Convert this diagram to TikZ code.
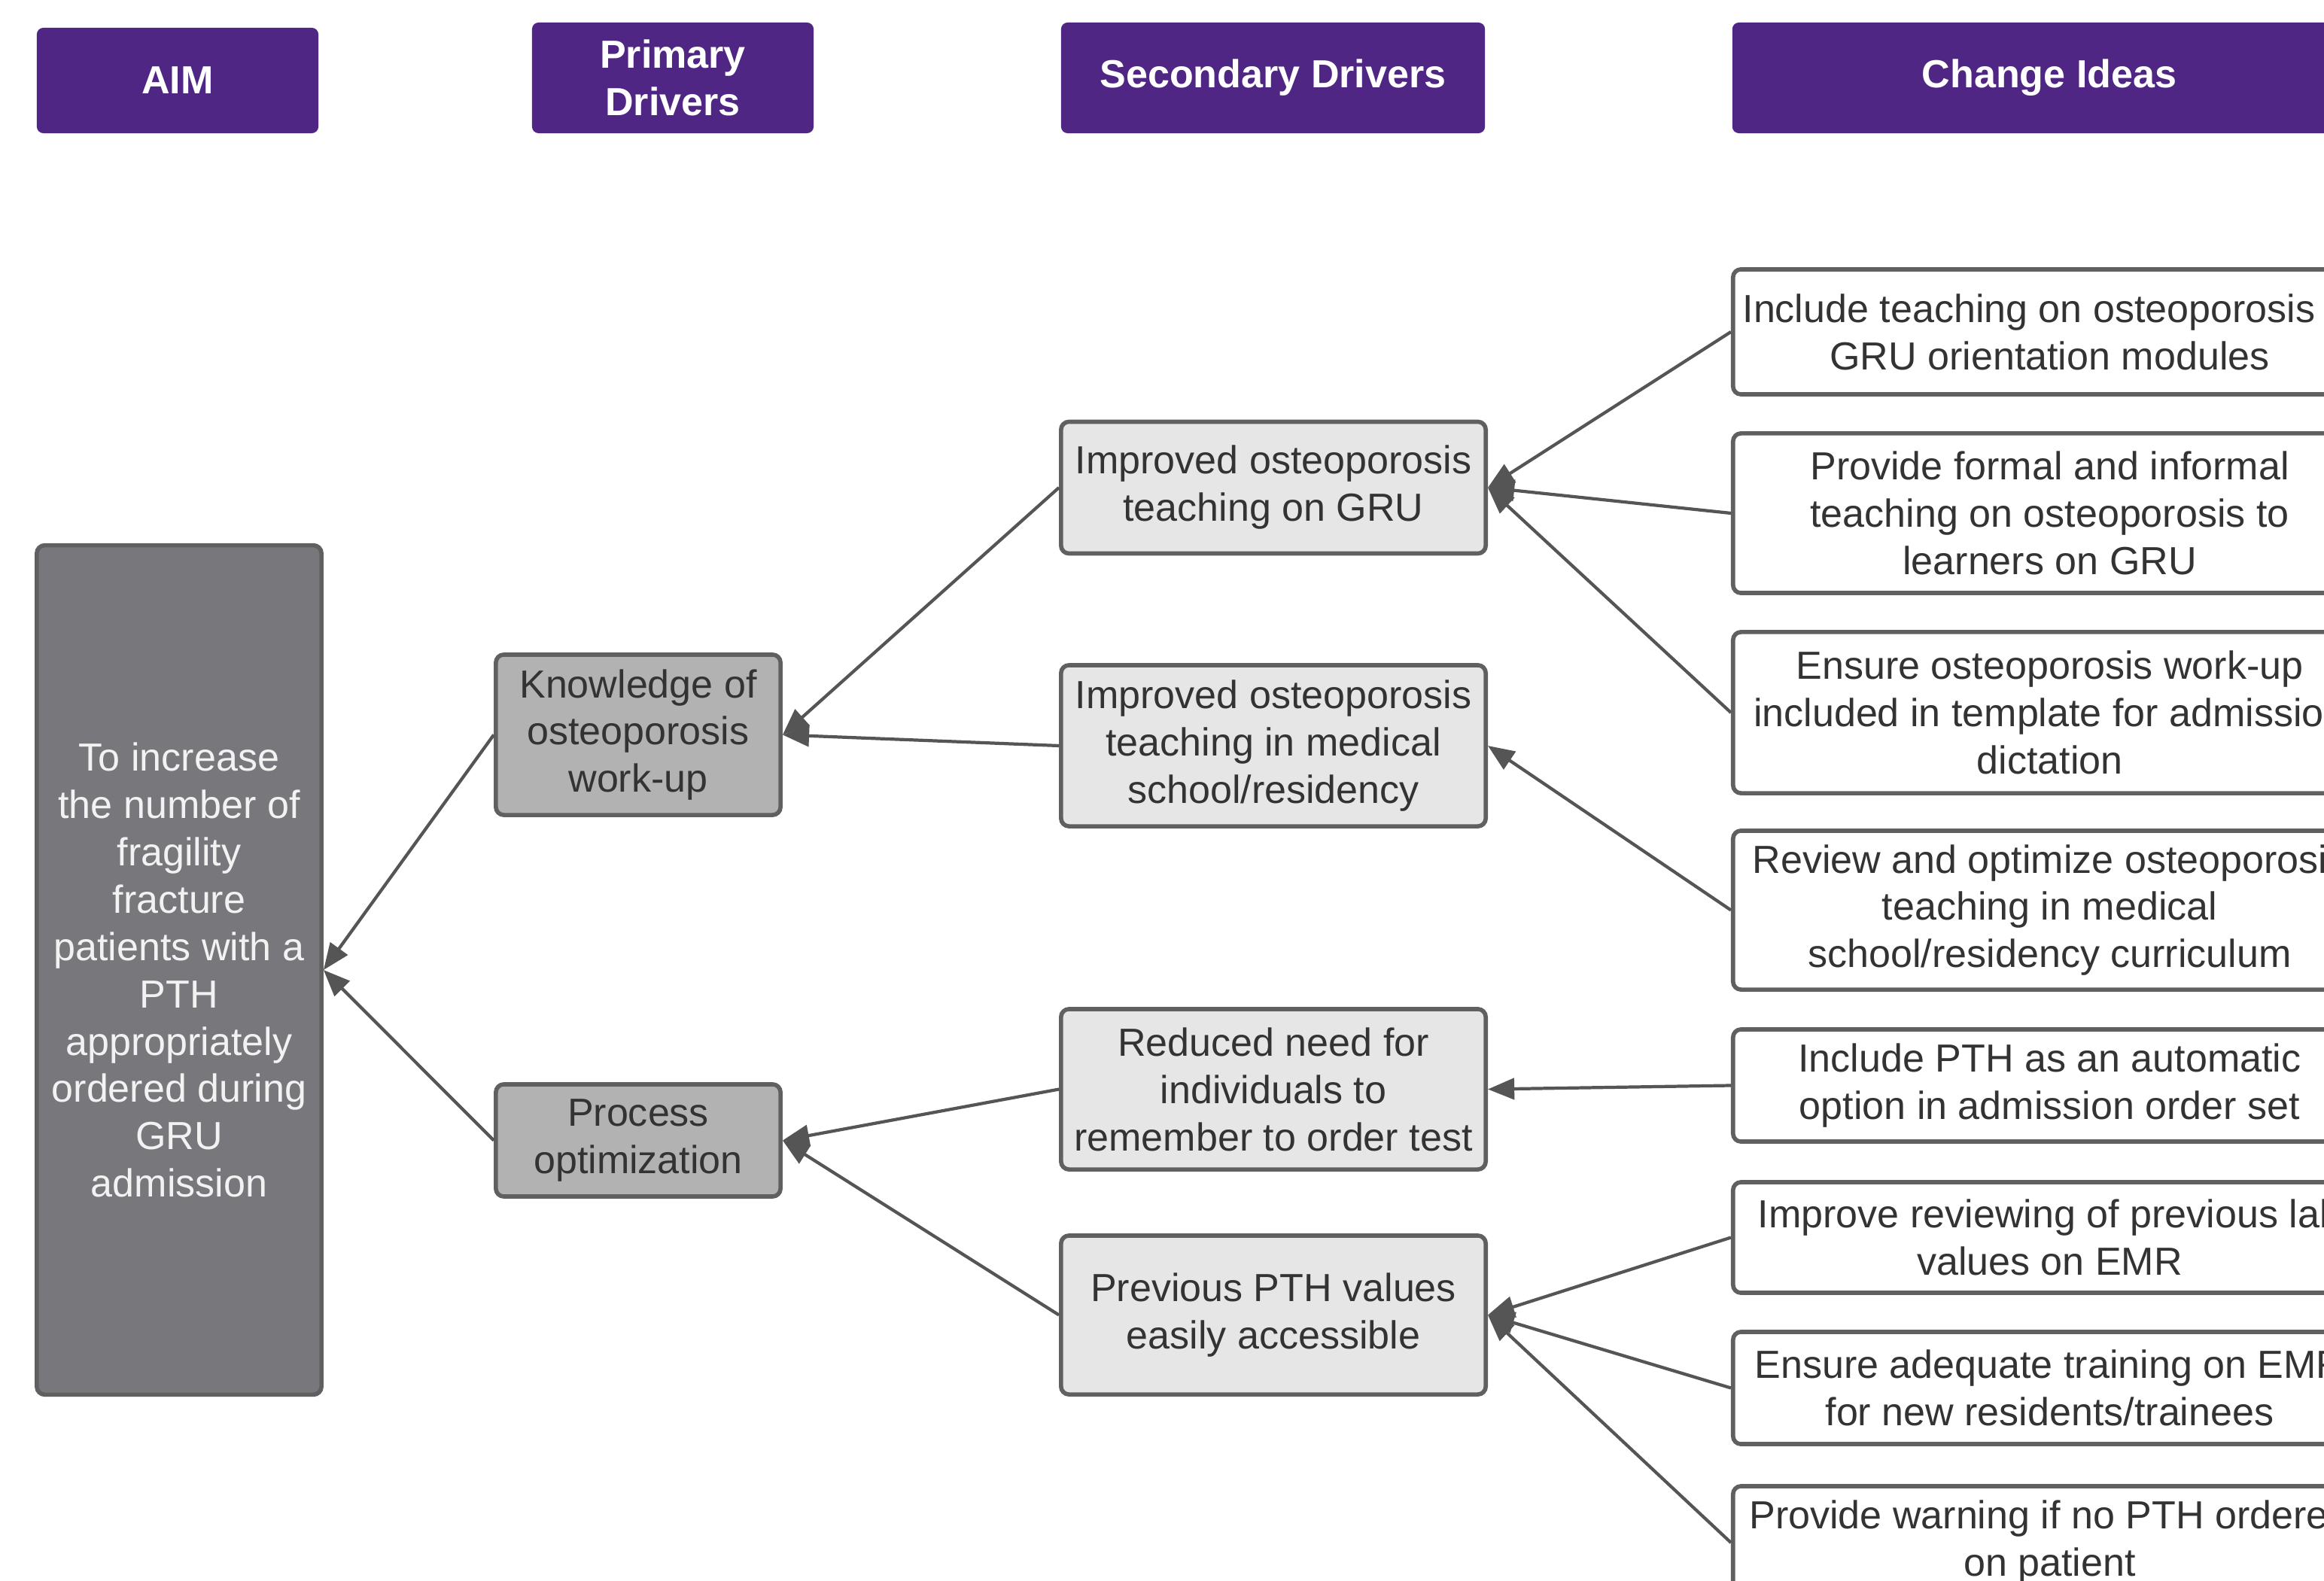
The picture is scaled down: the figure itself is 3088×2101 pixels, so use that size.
\documentclass[tikz,border=0pt]{standalone}
\usepackage{fontspec}
\setmainfont{Liberation Sans}
\usetikzlibrary{arrows.meta}
\definecolor{wpurple}{HTML}{4F2683}
\definecolor{bordergray}{HTML}{606060}
\definecolor{aimgray}{HTML}{78787C}
\definecolor{midgray}{HTML}{B2B2B2}
\definecolor{lightgray2}{HTML}{E6E6E6}
\definecolor{txtgray}{HTML}{333333}
\definecolor{conngray}{HTML}{555555}
\begin{document}
\begin{tikzpicture}[x=0.01cm,y=-0.01cm,
  basefont/.style={font=\fontsize{14.8pt}{17.9pt}\selectfont},
  hdr/.style={basefont, font=\fontsize{14.8pt}{17.9pt}\selectfont\bfseries, fill=wpurple, text=white, rounded corners=2.5pt, inner sep=0pt, align=center},
  box/.style={basefont, draw=bordergray, line width=1.6pt, rounded corners=3pt, inner sep=0pt, align=center, text=txtgray},
  aimbox/.style={box, fill=aimgray, text=white!95!black},
  pribox/.style={box, fill=midgray},
  secbox/.style={box, fill=lightgray2},
  chbox/.style={box, fill=white},
  conn/.style={draw=conngray, line width=1.2pt, -{Triangle[length=10pt,width=8pt]}}
]
\useasboundingbox (0,0) rectangle (3088,2101);
\clip (0,0) rectangle (3088,2101);
\fill[white] (0,0) rectangle (3088,2101);

% headers
\node[hdr, minimum width=3.74cm, minimum height=1.40cm] (hA) at (236,107) {AIM};
\node[hdr, minimum width=3.74cm, minimum height=1.47cm] (hP) at (894,103.5) {Primary\\Drivers};
\node[hdr, minimum width=5.63cm, minimum height=1.47cm] (hS) at (1691.5,103.5) {Secondary Drivers};
\node[hdr, minimum width=8.42cm, minimum height=1.47cm] (hC) at (2723,103.5) {Change Ideas};

% aim
\node[aimbox, minimum width=3.78cm, minimum height=11.28cm] (aim) at (238,1289)
  {To increase\\the number of\\fragility\\fracture\\patients with a\\PTH\\appropriately\\ordered during\\GRU\\admission};

% primary drivers
\node[pribox, minimum width=3.78cm, minimum height=2.13cm] (know) at (848,976.5) {Knowledge of\\osteoporosis\\work-up};
\node[pribox, minimum width=3.78cm, minimum height=1.49cm] (proc) at (848,1515.5) {Process\\optimization};

% secondary drivers
\node[secbox, minimum width=5.64cm, minimum height=1.75cm] (s1) at (1692,648) {Improved osteoporosis\\teaching on GRU};
\node[secbox, minimum width=5.64cm, minimum height=2.14cm] (s2) at (1692,991) {Improved osteoporosis\\teaching in medical\\school/residency};
\node[secbox, minimum width=5.64cm, minimum height=2.13cm] (s3) at (1692,1447.5) {Reduced need for\\individuals to\\remember to order test};
\node[secbox, minimum width=5.64cm, minimum height=2.11cm] (s4) at (1692,1747.5) {Previous PTH values\\easily accessible};

% change ideas
\node[chbox, minimum width=8.41cm, minimum height=1.66cm] (c1) at (2723.5,441) {Include teaching on osteoporosis in\\GRU orientation modules};
\node[chbox, minimum width=8.41cm, minimum height=2.12cm] (c2) at (2723.5,682) {Provide formal and informal\\teaching on osteoporosis to\\learners on GRU};
\node[chbox, minimum width=8.41cm, minimum height=2.14cm] (c3) at (2723.5,947) {Ensure osteoporosis work-up\\included in template for admission\\dictation};
\node[chbox, minimum width=8.41cm, minimum height=2.11cm] (c4) at (2723.5,1209.5) {Review and optimize osteoporosis\\teaching in medical\\school/residency curriculum};
\node[chbox, minimum width=8.41cm, minimum height=1.49cm] (c5) at (2723.5,1442.5) {Include PTH as an automatic\\option in admission order set};
\node[chbox, minimum width=8.41cm, minimum height=1.47cm] (c6) at (2723.5,1644.5) {Improve reviewing of previous lab\\values on EMR};
\node[chbox, minimum width=8.41cm, minimum height=1.49cm] (c7) at (2723.5,1844.5) {Ensure adequate training on EMR\\for new residents/trainees};
\node[chbox, minimum width=8.41cm, minimum height=1.50cm] (c8) at (2723.5,2050) {Provide warning if no PTH ordered\\on patient};

% connectors
\draw[conn] (know.west) -- (aim.east);
\draw[conn] (proc.west) -- (aim.east);
\draw[conn] (s1.west) -- (know.east);
\draw[conn] (s2.west) -- (know.east);
\draw[conn] (s3.west) -- (proc.east);
\draw[conn] (s4.west) -- (proc.east);
\draw[conn] (c1.west) -- (s1.east);
\draw[conn] (c2.west) -- (s1.east);
\draw[conn] (c3.west) -- (s1.east);
\draw[conn] (c4.west) -- (s2.east);
\draw[conn] (c5.west) -- (s3.east);
\draw[conn] (c6.west) -- (s4.east);
\draw[conn] (c7.west) -- (s4.east);
\draw[conn] (c8.west) -- (s4.east);
\end{tikzpicture}
\end{document}
